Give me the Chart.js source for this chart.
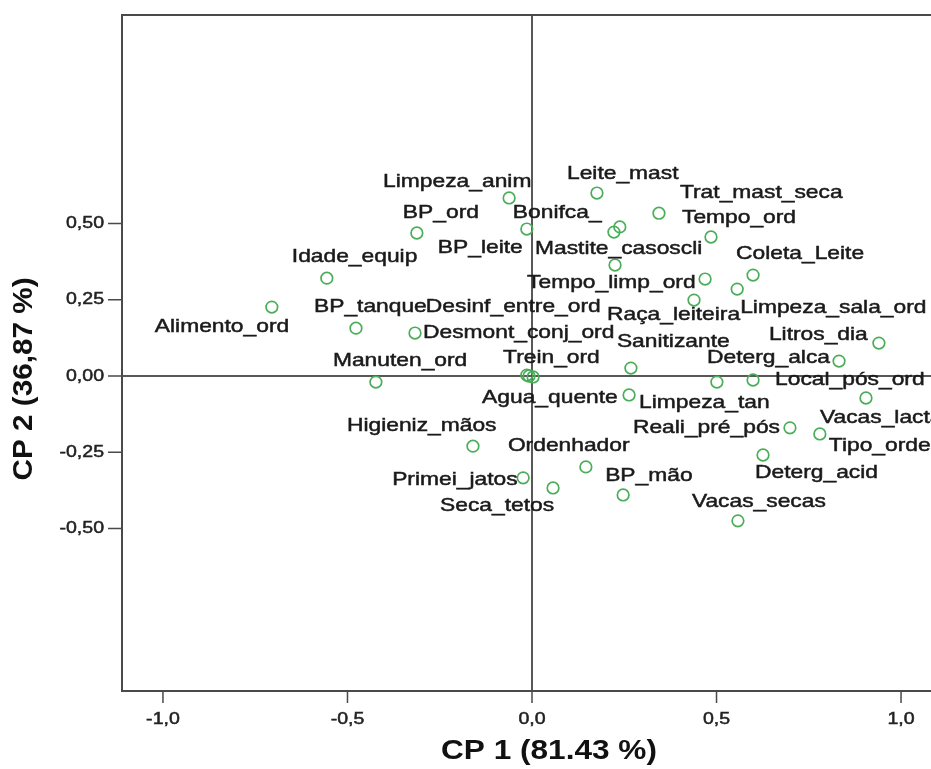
<!DOCTYPE html>
<html>
<head>
<meta charset="utf-8">
<script src="https://cdn.jsdelivr.net/npm/chart.js@4.4.1/dist/chart.umd.min.js"></script>
<style>
  html, body { margin: 0; padding: 0; background: #fff; overflow: hidden; }
  #wrap { width: 960px; height: 769px; }
</style>
</head>
<body>
<div id="wrap"><canvas id="pcaChart" width="960" height="769"></canvas></div>
<script>
// variable names (loadings plot)
const names = [
  'Limpeza_anim', 'BP_ord', 'BP_leite', 'Idade_equip', 'Alimento_ord', 'BP_tanque',
  'Desmont_conj_ord', 'Manuten_ord', 'Trein_ord', 'Agua_quente', 'Desinf_entre_ord',
  'Leite_mast', 'Trat_mast_seca', 'Bonifca_', '', 'Tempo_ord', 'Mastite_casoscli',
  'Coleta_Leite', 'Tempo_limp_ord', 'Limpeza_sala_ord', 'Raça_leiteira', 'Litros_dia',
  'Deterg_alca', 'Sanitizante', '', 'Local_pós_ord', 'Vacas_lactação', 'Limpeza_tan',
  'Reali_pré_pós', 'Tipo_ordenha', 'Deterg_acid', 'BP_mão', 'Vacas_secas', 'Ordenhador',
  'Higieniz_mãos', 'Primei_jatos', 'Seca_tetos'
];
const cp1 = [
  -0.062, -0.312, -0.014, -0.556, -0.705, -0.477,
  -0.317, -0.423, -0.008, 0.003, -0.014,
  0.176, 0.344, 0.238, 0.222, 0.485, 0.225,
  0.599, 0.469, 0.556, 0.439, 0.940,
  0.832, 0.268, 0.501, 0.599, 0.905, 0.263,
  0.699, 0.780, 0.626, 0.247, 0.558, 0.146,
  -0.160, -0.024, 0.057
];
const cp2 = [
  0.584, 0.469, 0.482, 0.321, 0.226, 0.157,
  0.141, -0.020, 0.000, -0.003, 0.003,
  0.600, 0.534, 0.489, 0.472, 0.456, 0.364,
  0.331, 0.318, 0.285, 0.249, 0.108,
  0.049, 0.026, -0.020, -0.013, -0.072, -0.062,
  -0.170, -0.190, -0.259, -0.390, -0.475, -0.298,
  -0.230, -0.334, -0.367
];
const xTicks = [-1, -0.5, 0, 0.5, 1];
const xTickLabels = ['-1,0', '-0,5', '0,0', '0,5', '1,0'];
const yTicks = [0.5, 0.25, 0, -0.25, -0.5];
const yTickLabels = ['0,50', '0,25', '0,00', '-0,25', '-0,50'];

// where each name sits relative to its marker (px: left edge, middle)
const labelOffsets = [
  [-126, -16], [-14, -20], [-89, 19], [-35, -21], [-117, 20], [-42, -21],
  [8, 0], [-43, -21], [-26, -18], [-51, 21], [-101, -68],
  [-30, -19], [21, -20], [-107, -14], [0, 0], [-29, -19], [-80, -16],
  [-17, -21], [-178, 4], [3, 19], [-87, 15], [-110, -8],
  [-132, -3], [-14, -26], [0, 0], [22, 0], [-46, 20], [10, 8],
  [-157, 0], [9, 12], [-8, 18], [-18, -19], [-46, -19], [-78, -21],
  [-126, -20], [-131, 2], [-113, 18]
];

const points = cp1.map((x, i) => ({ x: x, y: cp2[i] }));

function wideText(ctx, txt, x, y, sx, align, heavy) {
  ctx.save();
  ctx.translate(x, y);
  ctx.scale(sx, 1);
  ctx.textAlign = align;
  if (heavy) {
    ctx.lineWidth = heavy;
    ctx.strokeStyle = ctx.fillStyle;
    ctx.strokeText(txt, 0, 0);
  }
  ctx.fillText(txt, 0, 0);
  ctx.restore();
}

const framePlugin = {
  id: 'frame',
  beforeDatasetsDraw(chart) {
    const ctx = chart.ctx;
    const a = chart.chartArea;
    const xs = chart.scales.x, ys = chart.scales.y;
    const x0 = xs.getPixelForValue(0), y0 = ys.getPixelForValue(0);
    ctx.save();
    // zero lines
    ctx.strokeStyle = '#222';
    ctx.lineWidth = 1.5;
    ctx.beginPath();
    ctx.moveTo(a.left, y0); ctx.lineTo(a.right + 20, y0);
    ctx.moveTo(x0, a.top); ctx.lineTo(x0, a.bottom);
    ctx.stroke();
    // frame (right side falls outside the window)
    ctx.strokeStyle = '#4a4a4a';
    ctx.lineWidth = 2;
    ctx.beginPath();
    ctx.moveTo(a.right + 20, a.top); ctx.lineTo(a.left, a.top);
    ctx.lineTo(a.left, a.bottom); ctx.lineTo(a.right + 20, a.bottom);
    ctx.stroke();
    // ticks
    ctx.lineWidth = 1.5;
    ctx.beginPath();
    xTicks.forEach(v => {
      const px = xs.getPixelForValue(v);
      ctx.moveTo(px, a.bottom); ctx.lineTo(px, a.bottom + 12);
    });
    yTicks.forEach(v => {
      const py = ys.getPixelForValue(v);
      ctx.moveTo(a.left - 14, py); ctx.lineTo(a.left, py);
    });
    ctx.stroke();
    // tick labels
    ctx.fillStyle = '#222';
    ctx.font = '17px "Liberation Sans", Arial, sans-serif';
    ctx.textBaseline = 'middle';
    xTicks.forEach((v, i) => {
      wideText(ctx, xTickLabels[i], xs.getPixelForValue(v), a.bottom + 28, 1.15, 'center', 0.5);
    });
    yTicks.forEach((v, i) => {
      wideText(ctx, yTickLabels[i], a.left - 18, ys.getPixelForValue(v), 1.15, 'right', 0.5);
    });
    // axis titles
    ctx.fillStyle = '#111';
    ctx.font = 'bold 27px "Liberation Sans", Arial, sans-serif';
    wideText(ctx, 'CP 1 (81.43 %)', 549, 752, 1.17, 'center');
    ctx.save();
    ctx.translate(25, 379);
    ctx.rotate(-Math.PI / 2);
    ctx.scale(1.1, 1);
    ctx.textAlign = 'center';
    ctx.fillText('CP 2 (36,87 %)', 0, 0);
    ctx.restore();
    ctx.restore();
  },
  afterDatasetsDraw(chart) {
    const ctx = chart.ctx;
    const meta = chart.getDatasetMeta(0);
    ctx.save();
    ctx.fillStyle = '#1a1a1a';
    ctx.font = '19px "Liberation Sans", Arial, sans-serif';
    ctx.textBaseline = 'middle';
    meta.data.forEach((el, i) => {
      if (!names[i]) return;
      const off = labelOffsets[i];
      wideText(ctx, names[i], el.x + off[0], el.y + off[1], 1.2, 'left', 0.5);
    });
    ctx.restore();
  }
};

new Chart(document.getElementById('pcaChart'), {
  type: 'scatter',
  data: {
    datasets: [{
      data: points,
      pointStyle: 'circle',
      pointRadius: 5.8,
      pointBorderWidth: 1.7,
      borderColor: '#4aad58',
      backgroundColor: 'rgba(0,0,0,0)'
    }]
  },
  options: {
    responsive: false,
    animation: false,
    layout: { padding: { left: 122, top: 15, right: 18, bottom: 78 } },
    scales: {
      x: { type: 'linear', min: -1.111, max: 1.111, display: false },
      y: { type: 'linear', min: -1.033, max: 1.184, display: false }
    },
    plugins: {
      legend: { display: false },
      tooltip: { enabled: false }
    }
  },
  plugins: [framePlugin]
});
</script>
</body>
</html>
